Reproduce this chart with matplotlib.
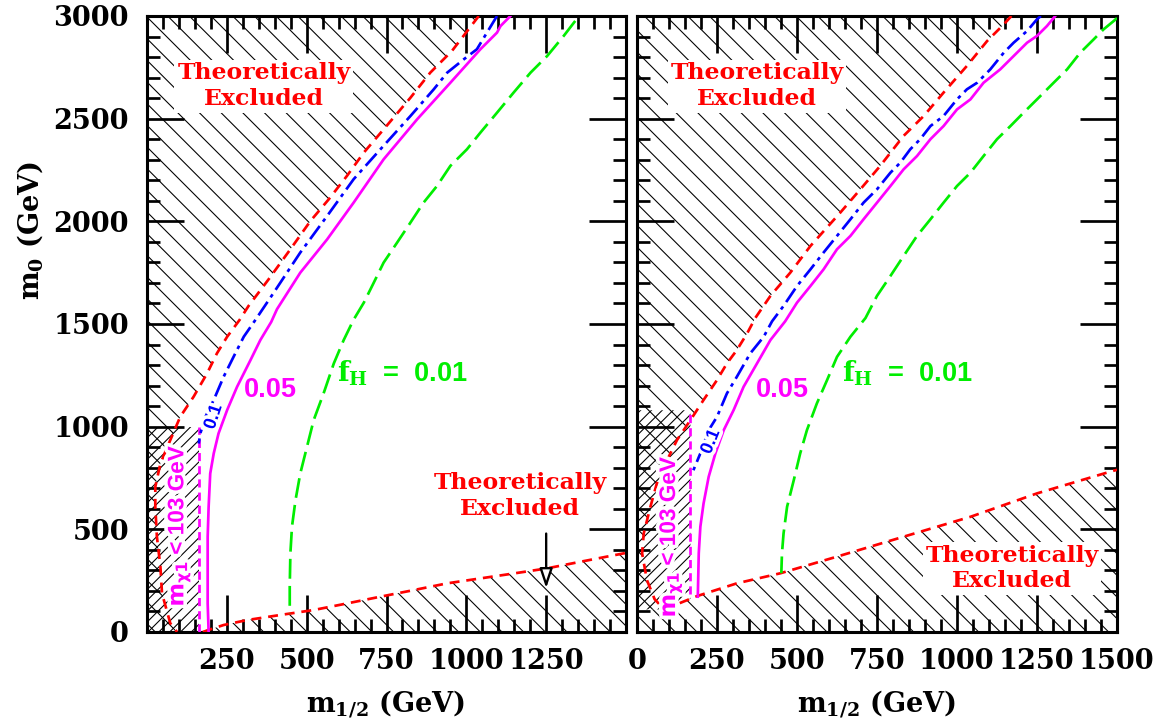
import numpy as np
import matplotlib
matplotlib.use('Agg')
import matplotlib.pyplot as plt
import matplotlib.patheffects as pe
from matplotlib.ticker import MultipleLocator, FuncFormatter

DPI = 130
plt.rcParams['lines.scale_dashes'] = False
plt.rcParams['hatch.linewidth'] = 0.6
plt.rcParams['hatch.color'] = 'black'
plt.rcParams['font.family'] = ['DejaVu Serif']
plt.rcParams['font.weight'] = 'bold'
plt.rcParams['mathtext.fontset'] = 'dejavuserif'

# ---------------- data (m_1/2, m_0) in GeV ----------------
# Left panel
L_red_up_x = [1039, 955, 887, 825, 741, 679, 626, 569, 512, 449, 381, 318, 290, 251, 219, 188,
              146, 104, 73, 42, 26, 26, 31, 42, 47, 73, 94]
L_red_up_y = [3000, 2830, 2724, 2602, 2448, 2335, 2221, 2107, 2002, 1864, 1718, 1588, 1520, 1438,
              1357, 1259, 1146, 1048, 935, 821, 707, 610, 464, 318, 188, 42, 0]
L_red_low_x = [175, 193, 240, 313, 418, 522, 626, 731, 835, 940, 1044, 1148, 1253, 1357, 1493, 1500]
L_red_low_y = [0, 10, 34, 58, 83, 107, 139, 172, 204, 237, 261, 285, 310, 342, 383, 385]
L_blue_x = [1096, 1033, 992, 940, 898, 825, 731, 647, 564, 480, 397, 336, 303, 271, 240, 209,
            183, 167, 162]
L_blue_y = [3000, 2838, 2789, 2724, 2643, 2513, 2351, 2205, 2026, 1848, 1653, 1512, 1438, 1340,
            1243, 1130, 1048, 967, 918]
L_mag_x = [1138, 1107, 1096, 1044, 950, 846, 741, 647, 564, 480, 407, 389, 355, 324, 282, 251,
           224, 209, 198, 193, 190, 190, 190, 193]
L_mag_y = [3000, 2951, 2919, 2838, 2675, 2497, 2302, 2091, 1912, 1750, 1572, 1510, 1422, 1324,
           1194, 1081, 967, 870, 772, 610, 464, 302, 139, 0]
L_green_x = [1341, 1305, 1253, 1201, 1148, 1096, 1044, 1002, 950, 908, 866, 825, 783, 741, 710,
             679, 647, 616, 585, 553, 522, 501, 480, 465, 454, 449, 447, 447]
L_green_y = [2976, 2903, 2805, 2724, 2627, 2529, 2432, 2351, 2270, 2172, 2091, 1994, 1896, 1799,
             1701, 1604, 1521, 1422, 1308, 1162, 1032, 902, 772, 642, 513, 383, 221, 91]
L_chi_x = [164, 164]
L_chi_y = [0, 1000]

# Right panel
R_red_up_x = [1170, 1146, 1094, 1031, 958, 896, 833, 760, 698, 635, 542, 479, 417, 370, 344, 312,
              281, 250, 208, 167, 125, 94, 62, 42, 21, 16, 31, 55, 85]
R_red_up_y = [3000, 2959, 2878, 2757, 2627, 2513, 2416, 2270, 2156, 2042, 1880, 1750, 1637, 1530,
              1454, 1373, 1308, 1227, 1130, 1032, 935, 837, 724, 610, 480, 383, 253, 160, 110]
R_red_low_x = [85, 188, 312, 448, 625, 833, 1042, 1250, 1479, 1500]
R_red_low_y = [110, 175, 237, 286, 367, 464, 561, 675, 781, 790]
R_blue_x = [1262, 1250, 1219, 1177, 1146, 1104, 1063, 1031, 1000, 958, 917, 885, 854, 823, 792,
            750, 708, 667, 625, 583, 542, 500, 458, 422, 396, 354, 312, 281, 250, 224, 198, 172]
R_blue_y = [3000, 2984, 2927, 2870, 2821, 2740, 2675, 2643, 2594, 2513, 2464, 2400, 2351, 2286,
            2237, 2156, 2091, 2010, 1929, 1848, 1766, 1685, 1588, 1513, 1438, 1357, 1243, 1162,
            1048, 983, 870, 772]
R_mag_x = [1307, 1281, 1250, 1219, 1177, 1135, 1083, 1042, 1000, 958, 917, 875, 833, 792, 750,
           708, 667, 625, 583, 542, 500, 463, 417, 375, 333, 302, 271, 245, 224, 208, 198, 193, 190]
R_mag_y = [3000, 2951, 2903, 2870, 2805, 2740, 2675, 2594, 2545, 2464, 2400, 2318, 2253, 2172,
           2091, 2010, 1929, 1864, 1766, 1685, 1604, 1513, 1422, 1308, 1194, 1081, 983, 870, 756,
           626, 513, 383, 172]
R_green_x = [1500, 1490, 1458, 1427, 1385, 1344, 1302, 1250, 1208, 1167, 1125, 1083, 1042, 1000,
             958, 917, 875, 833, 792, 750, 714, 667, 625, 594, 562, 531, 510, 490, 469, 458, 453, 451]
R_green_y = [2990, 2976, 2935, 2886, 2821, 2740, 2675, 2594, 2529, 2464, 2400, 2318, 2237, 2172,
             2091, 2010, 1929, 1831, 1734, 1637, 1529, 1438, 1340, 1227, 1113, 983, 870, 740, 610,
             480, 383, 286]
R_chi_x = [167, 167]
R_chi_y = [185, 1080]

x_ticks = [0, 250, 500, 750, 1000, 1250, 1500]
y_ticks = [0, 500, 1000, 1500, 2000, 2500, 3000]

RED, BLUE, MAG, GREEN = '#ff0000', '#0000ff', '#ff00ff', '#00ee00'
LW = 1.5

fig = plt.figure(figsize=(1167 / DPI, 727 / DPI), dpi=DPI)
axL = fig.add_axes([147 / 1167, 95 / 727, 479 / 1167, 616 / 727])
axR = fig.add_axes([637 / 1167, 95 / 727, 480 / 1167, 616 / 727])

hatch_kw = dict(facecolor='none', edgecolor='black', linewidth=0, zorder=1)
HATCH_THEO = '\\\\'
HATCH_CHI = '////'
halo = [pe.withStroke(linewidth=4, foreground='white')]


def style_axes(ax, show_edge_x):
    ax.set_xlim(0, 1500)
    ax.set_ylim(0, 3000)
    ax.xaxis.set_major_locator(MultipleLocator(250))
    ax.xaxis.set_minor_locator(MultipleLocator(50))
    ax.yaxis.set_major_locator(MultipleLocator(500))
    ax.yaxis.set_minor_locator(MultipleLocator(100))
    ax.tick_params(which='both', direction='in', top=True, right=True, width=1.5, color='black')
    ax.tick_params(which='major', length=20.5)
    ax.tick_params(which='minor', length=7.2)
    ax.tick_params(axis='x', which='major', pad=9, labelsize=15)
    ax.tick_params(axis='y', which='major', pad=10, labelsize=15)
    for s in ax.spines.values():
        s.set_linewidth(1.7)
    if show_edge_x:
        ax.xaxis.set_major_formatter(FuncFormatter(lambda v, p: f'{int(round(v))}'))
    else:
        ax.xaxis.set_major_formatter(
            FuncFormatter(lambda v, p: '' if round(v) in (0, 1500) else f'{int(round(v))}'))


def panel(ax, red_up_x, red_up_y, red_low_x, red_low_y, blue_x, blue_y, mag_x, mag_y,
          green_x, green_y, chi_x, chi_y, corner):
    # hatched theoretically excluded regions
    ax.fill_betweenx(red_up_y, 0, red_up_x, hatch=HATCH_THEO, **hatch_kw)
    lx = np.r_[0, red_low_x] if corner else np.asarray(red_low_x)
    ly = np.r_[red_low_y[0], red_low_y] if corner else np.asarray(red_low_y)
    ax.fill_between(lx, 0, ly, hatch=HATCH_THEO, **hatch_kw)
    # chargino-mass excluded strip
    cx = np.linspace(0, chi_x[0], 30)
    cy0 = np.interp(cx, red_low_x, red_low_y, left=red_low_y[0]) if corner else np.zeros_like(cx)
    ax.fill_between(cx, cy0, chi_y[1], hatch=HATCH_CHI, **hatch_kw)
    # contours
    ax.plot(red_up_x, red_up_y, color=RED, lw=LW, ls=(0, (5.5, 3.8)), zorder=3)
    ax.plot(red_low_x, red_low_y, color=RED, lw=LW, ls=(0, (5.5, 3.8)), zorder=3)
    ax.plot(chi_x, chi_y, color=MAG, lw=LW, ls=(0, (4.5, 2.8)), zorder=3)
    ax.plot(blue_x, blue_y, color=BLUE, lw=LW, ls=(0, (9, 3, 2, 3)), zorder=3)
    ax.plot(mag_x, mag_y, color=MAG, lw=LW, ls='-', zorder=3)
    ax.plot(green_x, green_y, color=GREEN, lw=LW, ls=(0, (11, 4)), zorder=3)


panel(axL, L_red_up_x, L_red_up_y, L_red_low_x, L_red_low_y, L_blue_x, L_blue_y,
      L_mag_x, L_mag_y, L_green_x, L_green_y, L_chi_x, L_chi_y, corner=False)
panel(axR, R_red_up_x, R_red_up_y, R_red_low_x, R_red_low_y, R_blue_x, R_blue_y,
      R_mag_x, R_mag_y, R_green_x, R_green_y, R_chi_x, R_chi_y, corner=True)

style_axes(axL, False)
style_axes(axR, True)
axR.set_yticklabels([])
axL.set_yticks(y_ticks)
axL.set_xticks(x_ticks)
axR.set_xticks(x_ticks)

wbox = dict(facecolor='white', edgecolor='none', pad=1.5)
te_kw = dict(color=RED, fontsize=13, ha='center', va='center', family='DejaVu Serif',
             fontweight='bold', linespacing=1.2, bbox=wbox, zorder=5)
sans = dict(family='Liberation Sans', fontweight='bold')

# left panel annotations
axL.text(366, 2659, 'Theoretically\nExcluded', **te_kw)
axL.text(1169, 662, 'Theoretically\nExcluded', **te_kw)
axL.annotate('', xy=(1250, 196), xytext=(1250, 497),
             arrowprops=dict(arrowstyle='-|>,head_length=0.9,head_width=0.3', fc='white',
                             ec='black', lw=1.3), zorder=6)
axL.text(303, 1146, '0.05', color=MAG, fontsize=15, ha='left', va='baseline', zorder=5, **sans)
axL.text(595, 1219, r'$\mathbf{f_H}$  =  0.01', color=GREEN, fontsize=15, ha='left',
         va='baseline', math_fontfamily='dejavuserif', zorder=5, **sans)
axL.text(209, 1048, '0.1', color=BLUE, fontsize=10, rotation=72, ha='center', va='center',
         path_effects=halo, zorder=5, **sans)
axL.text(99, 520, r'$\mathbf{m_{\chi 1}}$ < 103 GeV', color=MAG, fontsize=12.5, rotation=90,
         ha='center', va='center', math_fontfamily='dejavusans', path_effects=halo,
         zorder=5, **sans)

# right panel annotations
axR.text(375, 2659, 'Theoretically\nExcluded', **te_kw)
axR.text(1172, 310, 'Theoretically\nExcluded', **te_kw)
axR.text(370, 1146, '0.05', color=MAG, fontsize=15, ha='left', va='baseline', zorder=5, **sans)
axR.text(641, 1219, r'$\mathbf{f_H}$  =  0.01', color=GREEN, fontsize=15, ha='left',
         va='baseline', math_fontfamily='dejavuserif', zorder=5, **sans)
axR.text(231, 927, '0.1', color=BLUE, fontsize=10, rotation=68, ha='center', va='center',
         path_effects=halo, zorder=5, **sans)
axR.text(104, 467, r'$\mathbf{m_{\chi 1}}$ < 103 GeV', color=MAG, fontsize=12.5, rotation=90,
         ha='center', va='center', math_fontfamily='dejavusans', path_effects=halo,
         zorder=5, **sans)

# axis titles
fig.text(30 / 1167, 1 - 230 / 727, r'$\mathbf{m_0}$ (GeV)', rotation=90, ha='center',
         va='center', fontsize=15, fontweight='bold')
fig.text(386 / 1167, 1 - 713 / 727, r'$\mathbf{m_{1/2}}$ (GeV)', ha='center', va='baseline',
         fontsize=15, fontweight='bold')
fig.text(877 / 1167, 1 - 713 / 727, r'$\mathbf{m_{1/2}}$ (GeV)', ha='center', va='baseline',
         fontsize=15, fontweight='bold')

fig.savefig('out.png', dpi=DPI)
